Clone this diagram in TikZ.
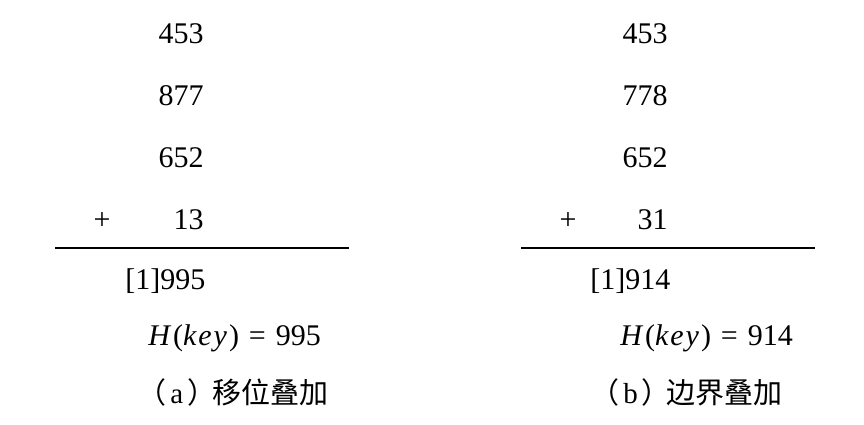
\documentclass[tikz,border=0pt]{standalone}
\usepackage{fontspec}
\setmainfont{Liberation Serif}
\newfontfamily\cjkfont{Noto Sans CJK SC}
\usetikzlibrary{positioning}
\tikzset{
  hnum/.style={inner sep=0pt, anchor=base east, font=\fontsize{15}{18}\selectfont},
  hplus/.style={hnum, anchor=base},
  hsum/.style={hnum, anchor=base west},
  hkey/.style={hnum, anchor=base west},
  hcap/.style={inner sep=0pt, anchor=base west, font=\fontsize{14.5}{17}\selectfont},
  hrule/.style={line width=1.2pt, draw=black},
}
\newcommand{\hkeytext}[1]{\textit{H\kern1.5pt}(\textit{k\kern1pt e\kern1pt y\kern1pt})\,\,=\,\,#1}
\newcommand{\hcaptext}[2]{{\cjkfont （}\hspace{2pt}#1\hspace{2pt}{\cjkfont ）}\hspace{-2pt}{\cjkfont #2}}

\begin{document}
\begin{tikzpicture}[x=0.5pt, y=-0.5pt]
  \useasboundingbox (0,0) rectangle (864,424);
  % (a) shift folding
  \node[hnum] (a1) at (204,43) {453};
  \node[hnum] (a2) at (204,105) {877};
  \node[hnum] (a3) at (204,167) {652};
  \node[hnum] (a4) at (204,229) {13};
  \node[hplus] (aplus) at (102,229) {+};
  \coordinate (al) at (55,248);
  \coordinate (ar) at (349,248);
  \draw[hrule] (al) -- (ar);
  \node[hsum] (asum) at (125,289) {[1]995};
  \node[hkey] (akey) at (148,345) {\hkeytext{995}};
  \node[hcap] (acap) at (137,403) {\hcaptext{a}{移位叠加}};
  % (b) boundary folding
  \node[hnum] (b1) at (668,43) {453};
  \node[hnum] (b2) at (668,105) {778};
  \node[hnum] (b3) at (668,167) {652};
  \node[hnum] (b4) at (668,229) {31};
  \node[hplus] (bplus) at (568,229) {+};
  \coordinate (bl) at (521,248);
  \coordinate (br) at (815,248);
  \draw[hrule] (bl) -- (br);
  \node[hsum] (bsum) at (590,289) {[1]914};
  \node[hkey] (bkey) at (620,345) {\hkeytext{914}};
  \node[hcap] (bcap) at (590,403) {\hcaptext{b}{边界叠加}};
\end{tikzpicture}
\end{document}
